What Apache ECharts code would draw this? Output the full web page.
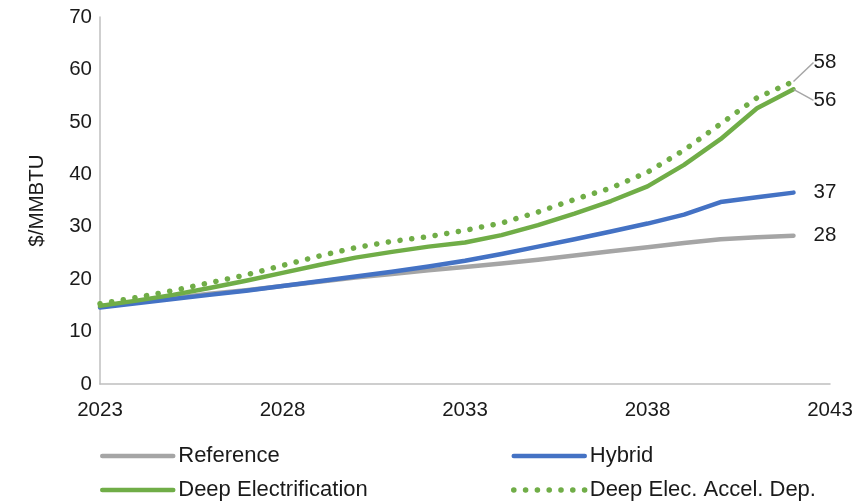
<!DOCTYPE html>
<html>
<head>
<meta charset="utf-8">
<script src="https://cdn.jsdelivr.net/npm/echarts@6/dist/echarts.min.js"></script>
<style>
  html, body { margin: 0; padding: 0; background: #fff; }
  #chart { width: 866px; height: 503px; }
</style>
</head>
<body>
<div id="chart"></div>
<script>
// years on the x axis (annual points)
var years = [2023, 2024, 2025, 2026, 2027, 2028, 2029, 2030, 2031, 2032,
  2033, 2034, 2035, 2036, 2037, 2038, 2039, 2040, 2041, 2042]
// $/MMBTU
var reference = [14.9, 15.6, 16.4, 17.2, 17.9, 18.7, 19.5, 20.3, 21.0, 21.7,
  22.3, 23.0, 23.7, 24.5, 25.3, 26.1, 26.9, 27.6, 28.0, 28.3]
var hybrid = [14.6, 15.4, 16.2, 17.0, 17.8, 18.7, 19.6, 20.5, 21.4, 22.4,
  23.5, 24.8, 26.2, 27.6, 29.1, 30.6, 32.3, 34.7, 35.6, 36.5]
var deepElec = [14.9, 15.9, 17.0, 18.3, 19.7, 21.2, 22.7, 24.1, 25.2, 26.2,
  27.0, 28.4, 30.3, 32.5, 34.9, 37.7, 41.8, 46.7, 52.6, 56.2]
var deepElecAccel = [15.3, 16.5, 17.8, 19.3, 20.8, 22.6, 24.4, 26.0, 27.2, 28.1,
  29.3, 30.7, 32.8, 35.2, 37.4, 40.4, 44.6, 49.6, 54.6, 57.7]
var xTicks = [2023, 2028, 2033, 2038, 2043]
var yTicks = [0, 10, 20, 30, 40, 50, 60, 70]

var FONT = '"Liberation Sans", Arial, sans-serif'
var TEXT = '#1a1a1a'
var last = years.length - 1

// [year, value] pairs, the last one carries the leader line switch
function pairs (vals, withLine) {
  return years.map(function (y, i) {
    if (i === last && withLine) {
      return { value: [y, vals[i]], labelLine: { show: true } }
    }
    return [y, vals[i]]
  })
}

// label only the last point
function endLabel () {
  return {
    show: true,
    position: 'right',
    distance: 20,
    color: TEXT,
    fontSize: 20.5,
    fontFamily: FONT,
    formatter: function (p) {
      return p.dataIndex === last ? String(Math.round(p.value[1])) : ''
    }
  }
}

function lineSeries (name, vals, color, dy, dotted) {
  var s = {
    name: name,
    type: 'line',
    data: pairs(vals, !!dy),
    symbol: 'circle',
    symbolSize: 0,
    showSymbol: true,
    itemStyle: { color: color },
    lineStyle: { color: color, width: 4.5, cap: 'round', join: 'round' },
    label: endLabel(),
    labelLine: { show: false, lineStyle: { color: '#a6a6a6', width: 1.5 } },
    emphasis: { disabled: true },
    z: 2
  }
  if (dotted) {
    s.lineStyle = { color: color, width: 5.5, type: [0.1, 11.7], cap: 'round' }
  }
  if (dy) {
    s.labelLayout = function (params) {
      return params.dataIndex === last ? { dy: dy } : {}
    }
  }
  return s
}

function legendBox (left, names) {
  return {
    left: left,
    top: 445,
    height: 60,
    orient: 'vertical',
    padding: 0,
    itemGap: 12,
    itemWidth: 71,
    itemHeight: 14,
    itemStyle: { color: 'transparent', borderColor: 'transparent', borderWidth: 0, opacity: 0 },
    lineStyle: { width: 'inherit', cap: 'round' },
    textStyle: { color: TEXT, fontSize: 22, fontFamily: FONT },
    data: names
  }
}

var myChart = echarts.init(document.getElementById('chart'))
myChart.setOption({
  animation: false,
  textStyle: { fontFamily: FONT },
  grid: { left: 100, right: 36, top: 17, bottom: 119 },
  legend: [
    legendBox(100, ['Reference', 'Deep Electrification']),
    legendBox(511, ['Hybrid', 'Deep Elec. Accel. Dep.'])
  ],
  xAxis: {
    type: 'value',
    min: xTicks[0],
    max: xTicks[xTicks.length - 1],
    interval: xTicks[1] - xTicks[0],
    axisLine: { lineStyle: { color: '#bfbfbf', width: 1.5 } },
    axisTick: { show: false },
    splitLine: { show: false },
    axisLabel: {
      color: TEXT,
      fontSize: 20.5,
      fontFamily: FONT,
      margin: 16,
      formatter: function (v) { return String(v) }
    }
  },
  yAxis: {
    type: 'value',
    min: yTicks[0],
    max: yTicks[yTicks.length - 1],
    interval: yTicks[1] - yTicks[0],
    name: '$/MMBTU',
    nameLocation: 'middle',
    nameRotate: 90,
    nameGap: 52,
    nameTextStyle: { color: TEXT, fontSize: 20.5, fontFamily: FONT },
    axisLine: { show: true, lineStyle: { color: '#bfbfbf', width: 1.5 } },
    axisTick: { show: false },
    splitLine: { show: false },
    axisLabel: { color: TEXT, fontSize: 20.5, fontFamily: FONT, margin: 8 }
  },
  series: [
    lineSeries('Reference', reference, '#a5a5a5', 0, false),
    lineSeries('Hybrid', hybrid, '#4472c4', 0, false),
    lineSeries('Deep Electrification', deepElec, '#70ad47', 11, false),
    lineSeries('Deep Elec. Accel. Dep.', deepElecAccel, '#70ad47', -19, true)
  ]
})
</script>
</body>
</html>
